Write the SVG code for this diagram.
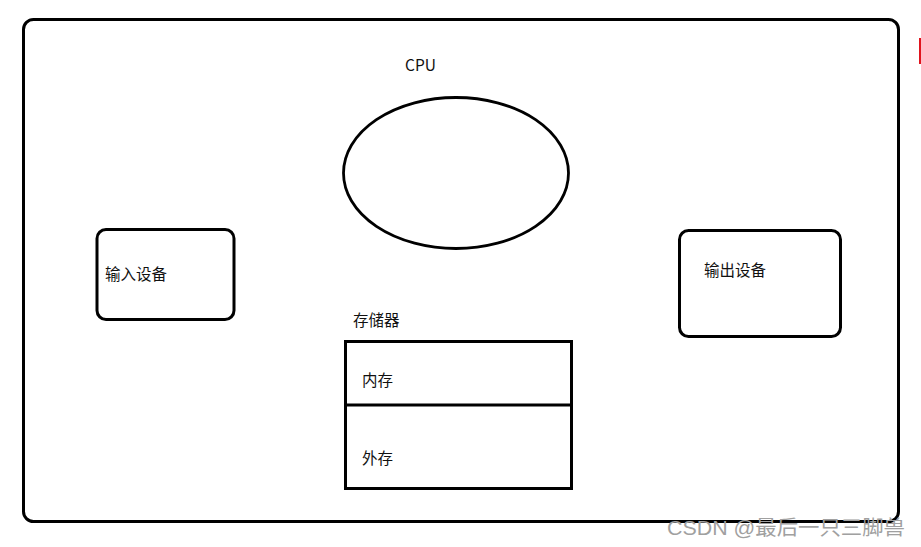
<svg xmlns="http://www.w3.org/2000/svg" width="921" height="547" viewBox="0 0 921 547">
<style>
.s{fill:none;stroke:#000;stroke-width:3}
.t{font-family:"Noto Sans CJK SC","Noto Sans",sans-serif;font-size:15.5px;fill:#111}
.w{font-family:"Liberation Sans","Noto Sans CJK SC",sans-serif;font-size:20px;fill:#a0a0a0}
</style>
<rect x="0" y="0" width="921" height="547" fill="#fff"/>
<g id="frame"><rect class="s" x="23.5" y="19.5" width="875" height="502" rx="10"/></g>
<g id="cpu">
<text class="t" x="405" y="71">CPU</text>
<ellipse class="s" cx="456" cy="173" rx="112.5" ry="75.5" style="stroke-width:2.8"/>
</g>
<g id="input">
<rect class="s" x="97" y="229.5" width="137" height="90" rx="9"/>
<text class="t" x="105" y="280">输入设备</text>
</g>
<g id="output">
<rect class="s" x="679.5" y="230.5" width="161" height="106" rx="9"/>
<text class="t" x="704" y="276">输出设备</text>
</g>
<g id="storage">
<text class="t" x="353" y="326">存储器</text>
<rect class="s" x="345.5" y="341.5" width="226" height="147"/>
<line class="s" x1="345.5" y1="405" x2="571.5" y2="405"/>
<text class="t" x="362" y="386">内存</text>
<text class="t" x="362" y="464">外存</text>
</g>
<g id="connectors"></g>
<rect x="919" y="38" width="2" height="26" fill="#e0141e"/>
<text class="w" x="667" y="535" textLength="238" lengthAdjust="spacingAndGlyphs">CSDN @最后一只三脚兽</text>
</svg>
